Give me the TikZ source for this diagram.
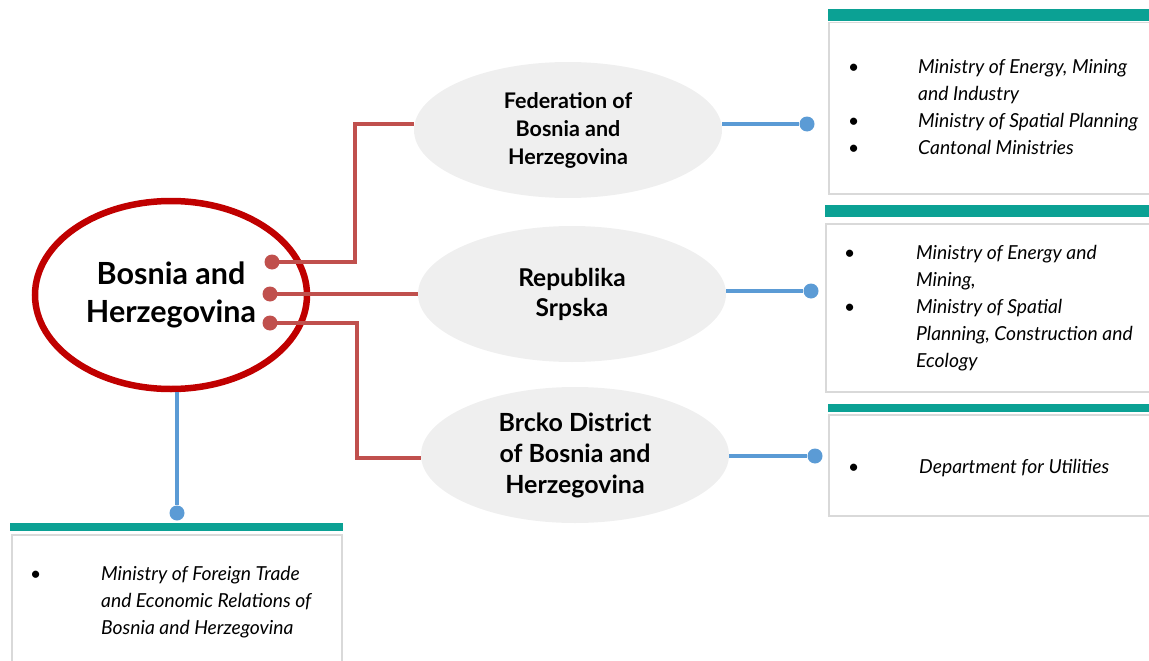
\documentclass[tikz,border=0pt]{standalone}
\usepackage{fontspec}
\setmainfont{Lato}
\usetikzlibrary{shapes.geometric}
\definecolor{bhred}{HTML}{C00000}
\definecolor{linkred}{HTML}{C0504D}
\definecolor{linkblue}{HTML}{5B9BD5}
\definecolor{entgray}{HTML}{EFEFEF}
\definecolor{barteal}{HTML}{0BA194}
\definecolor{boxgray}{HTML}{D9D9D9}
\tikzset{
  country/.style={ellipse, draw=bhred, line width=6.5pt, minimum width=272pt, minimum height=188pt, inner sep=0pt, align=center, font=\bfseries\fontsize{30.5}{38}\selectfont},
  entity/.style={ellipse, fill=entgray, minimum width=308pt, minimum height=136pt, inner sep=0pt, align=center},
  reddot/.style={circle, fill=linkred, inner sep=0pt, minimum size=15pt},
  bluedot/.style={circle, fill=linkblue, inner sep=0pt, minimum size=15pt},
  redlink/.style={draw=linkred, line width=4.5pt},
  bluelink/.style={draw=linkblue, line width=4.5pt},
  listbox/.style={draw=boxgray, line width=1.5pt, rectangle, anchor=north west, inner sep=0pt},
  listtext/.style={anchor=base west, inner sep=0pt, font=\itshape\fontsize{19.3}{27}\selectfont},
}

\begin{document}
\begin{tikzpicture}[x=1pt, y=-1pt]
  \useasboundingbox (0,0) rectangle (1149,661);
  \clip (0,0) rectangle (1149,661);

  % list boxes with teal bars
  \fill[barteal] (828,9) rectangle (1160,21);
  \node[listbox, minimum width=330pt, minimum height=171pt] (fedbox) at (828,22) {};
  \fill[barteal] (825,205) rectangle (1160,217);
  \node[listbox, minimum width=335pt, minimum height=168pt] (rsbox) at (825,223) {};
  \fill[barteal] (828,404) rectangle (1160,412);
  \node[listbox, minimum width=330pt, minimum height=101pt] (bdbox) at (828,414) {};
  \fill[barteal] (10,523) rectangle (343,531);
  \node[listbox, minimum width=330pt, minimum height=140pt] (bihbox) at (11,534) {};

  \node[listtext] (fedlist) at (848,74) {\begin{tabular}[t]{@{}p{70pt}@{}l@{}}
    \textbullet & Ministry of Energy, Mining\\
    & and Industry\\
    \textbullet & Ministry of Spatial Planning\\
    \textbullet & Cantonal Ministries
  \end{tabular}};
  \node[listtext] (rslist) at (844,259) {\begin{tabular}[t]{@{}p{72pt}@{}l@{}}
    \textbullet & Ministry of Energy and\\
    & Mining,\\
    \textbullet & Ministry of Spatial\\
    & Planning, Construction and\\
    & Ecology
  \end{tabular}};
  \node[listtext] (bdlist) at (848,473) {\begin{tabular}[t]{@{}p{71pt}@{}l@{}}
    \textbullet & Department for Utilities
  \end{tabular}};
  \node[listtext] (bihlist) at (30,580) {\begin{tabular}[t]{@{}p{71pt}@{}l@{}}
    \textbullet & Ministry of Foreign Trade\\
    & and Economic Relations of\\
    & Bosnia and Herzegovina
  \end{tabular}};

  % entities
  \node[entity, font=\bfseries\fontsize{21.5}{28}\selectfont] (fbih) at (568,130) {Federation of\\Bosnia and\\Herzegovina};
  \node[entity, font=\bfseries\fontsize{24.5}{30}\selectfont] (rs) at (572,294) {Republika\\Srpska};
  \node[entity, font=\bfseries\fontsize{25}{31}\selectfont] (bd) at (575,455) {Brcko District\\of Bosnia and\\Herzegovina};

  % country
  \node[country] (bih) at (171,295) {Bosnia and\\Herzegovina};

  % red links
  \node[reddot] (d1) at (272,262) {};
  \node[reddot] (d2) at (270,294) {};
  \node[reddot] (d3) at (270,323) {};
  \coordinate (k1) at (355,262);
  \coordinate (k3) at (357,323);
  \draw[redlink] (d1.center) -- (k1) |- ([yshift=6pt]fbih.west);
  \draw[redlink] (d2.center) -- (rs.west);
  \draw[redlink] (d3.center) -- (k3) |- ([yshift=-3pt]bd.west);

  % blue links
  \node[bluedot] (b1) at (807,124) {};
  \node[bluedot] (b2) at (811,291) {};
  \node[bluedot] (b3) at (815,456) {};
  \node[bluedot] (b4) at (177,513) {};
  \draw[bluelink] ([yshift=6pt]fbih.east) -- (b1);
  \draw[bluelink] (rs.east |- b2) -- (b2);
  \draw[bluelink] (bd.east |- b3) -- (b3);
  \draw[bluelink] (bih.south -| b4) -- (b4);
\end{tikzpicture}
\end{document}
